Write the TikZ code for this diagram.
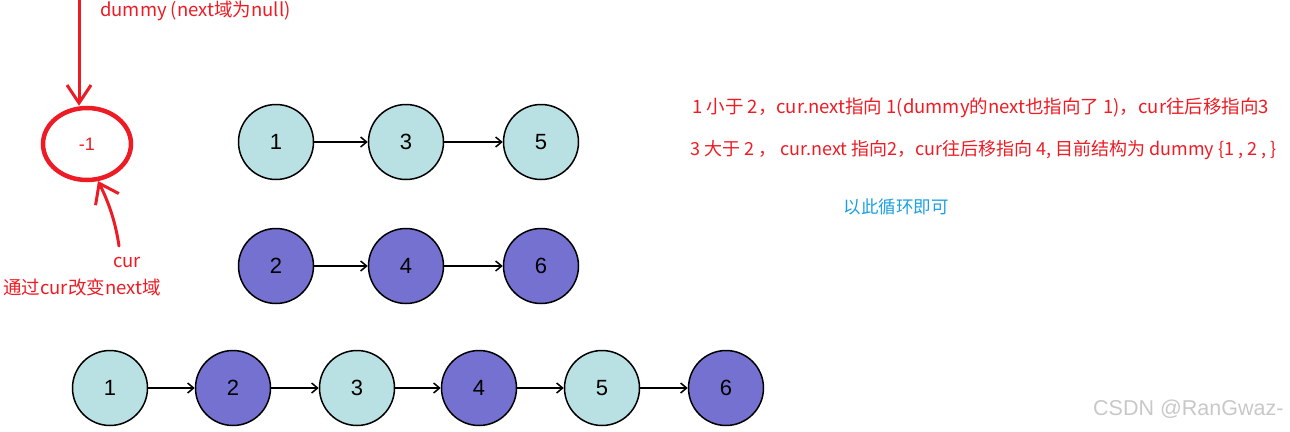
\documentclass[tikz,border=0pt]{standalone}
\usepackage{fontspec}
\newfontfamily\cjk{Noto Sans CJK SC}
\newfontfamily\arial{Liberation Sans}
\usetikzlibrary{arrows.meta,shapes.geometric}
\definecolor{lteal}{RGB}{185,224,227}
\definecolor{lpurple}{RGB}{117,113,209}
\definecolor{hred}{RGB}{237,28,36}
\definecolor{hblue}{RGB}{27,161,226}
\definecolor{wgray}{RGB}{200,200,200}
\begin{document}
\begin{tikzpicture}[x=1pt,y=-1pt,
  lnode/.style={circle,draw=black,line width=1.5pt,minimum size=75pt,inner sep=0pt,font=\arial\fontsize{22}{22}\selectfont},
  odd/.style={lnode,fill=lteal},
  even/.style={lnode,fill=lpurple},
  link/.style={draw=black,line width=1.5pt,-{Straight Barb[length=6pt,width=10pt,line width=1.5pt]}},
  redtxt/.style={inner sep=0pt,text=hred,font=\cjk\fontsize{18.5}{18.5}\selectfont},
  hand/.style={draw=hred,line width=3pt,line cap=round,line join=round}
]
\useasboundingbox (0,0) rectangle (1290,431);
% top row
\node[odd] (a1) at (276,142) {1};
\node[odd] (a3) at (406,142) {3};
\node[odd] (a5) at (541,142) {5};
\node[even] (b2) at (276,266) {2};
\node[even] (b4) at (406,266) {4};
\node[even] (b6) at (541,266) {6};
\draw[link] (a1) -- (a3);
\draw[link] (a3) -- (a5);
\draw[link] (b2) -- (b4);
\draw[link] (b4) -- (b6);
% merged row
\node[odd] (c1) at (110,388) {1};
\node[even] (c2) at (233,388) {2};
\node[odd] (c3) at (357,388) {3};
\node[even] (c4) at (479,388) {4};
\node[odd] (c5) at (602,388) {5};
\node[even] (c6) at (726,388) {6};
\draw[link] (c1) -- (c2);
\draw[link] (c2) -- (c3);
\draw[link] (c3) -- (c4);
\draw[link] (c4) -- (c5);
\draw[link] (c5) -- (c6);
% dummy ellipse
\node[ellipse,draw=hred,line width=4.5pt,minimum width=88pt,minimum height=72pt,inner sep=0pt,text=hred,font=\arial\fontsize{18}{18}\selectfont] (dummy) at (87,144) {-1};
\coordinate (topend) at (79,-2);
\coordinate (curend) at (119,246);
\draw[hand,-{Straight Barb[length=18pt,width=24pt,line width=3pt]}] (topend) -- (dummy.north -| topend);
\draw[hand,-{Straight Barb[length=18pt,width=26pt,line width=3pt]}] (curend) .. controls (116,225) and (110,205) .. (98,181);
% texts
\node[redtxt,anchor=west] (t1) at (100,11) {dummy (next域为null)};
\node[redtxt] (t2) at (127,262) {cur};
\node[redtxt,anchor=west] (t3) at (3,287) {通过cur改变next域};
\node[redtxt,anchor=west] (t4) at (692,108) {1 小于 2，cur.next指向 1(dummy的next也指向了 1)，cur往后移指向3};
\node[redtxt,anchor=west,font=\cjk\fontsize{18}{18}\selectfont] (t5) at (690,150) {3 大于 2 ， cur.next 指向2，cur往后移指向 4, 目前结构为 dummy \{1 , 2 , \}};
\node[inner sep=0pt,text=hblue,font=\cjk\fontsize{17.5}{17.5}\selectfont] (t6) at (896,207) {以此循环即可};
\node[inner sep=0pt,anchor=west,text=wgray,font=\arial\fontsize{21.5}{21.5}\selectfont] (wm) at (1093,409) {CSDN @RanGwaz-};
\end{tikzpicture}
\end{document}
